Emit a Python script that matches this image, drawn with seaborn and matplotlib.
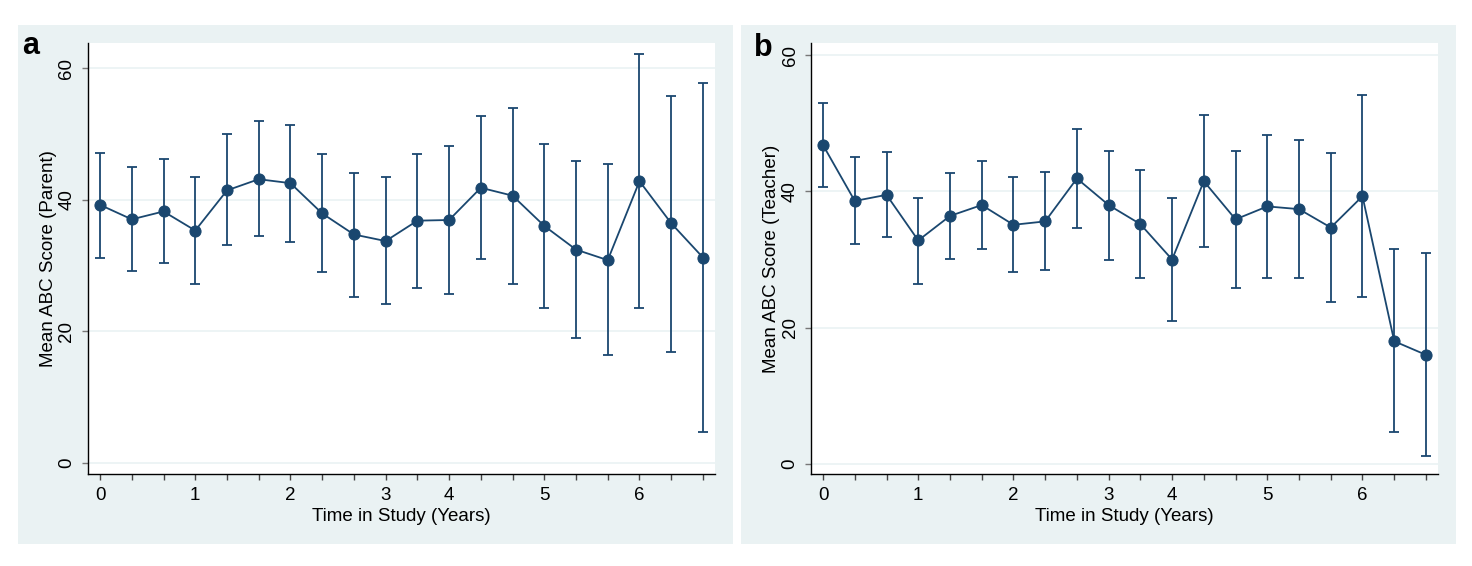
import matplotlib
matplotlib.use("Agg")
import matplotlib.pyplot as plt
import seaborn as sns
import numpy as np
import pandas as pd
from matplotlib.patches import Rectangle

# ── Data ──────────────────────────────────────────────────────────────────
VISIT = np.arange(20)                      # visits every 4 months
TICK_POS = [0, 3, 6, 9, 11, 14, 17]
TICK_LAB = ["0", "1", "2", "3", "4", "5", "6"]

parent_mean = [39.2, 37.0, 38.2, 35.3, 41.4, 43.1, 42.5, 37.9, 34.7, 33.7,
               36.8, 36.9, 41.8, 40.6, 36.0, 32.4, 30.8, 42.8, 36.4, 31.2]
parent_hi = [47.1, 44.9, 46.2, 43.4, 49.9, 51.9, 51.4, 46.9, 44.1, 43.4,
             47.0, 48.2, 52.7, 53.9, 48.5, 45.8, 45.4, 62.1, 55.8, 57.7]
parent_lo = [31.2, 29.1, 30.4, 27.2, 33.1, 34.5, 33.5, 29.0, 25.2, 24.2,
             26.5, 25.6, 31.0, 27.2, 23.5, 19.0, 16.4, 23.5, 16.9, 4.7]

teacher_mean = [46.8, 38.6, 39.5, 32.8, 36.4, 38.0, 35.1, 35.6, 41.9, 38.0,
                35.2, 30.0, 41.5, 35.9, 37.8, 37.4, 34.7, 39.3, 18.0, 16.0]
teacher_hi = [53.0, 45.0, 45.8, 39.0, 42.7, 44.4, 42.1, 42.9, 49.2, 45.9,
              43.2, 39.1, 51.2, 46.0, 48.3, 47.5, 45.7, 54.1, 31.6, 30.9]
teacher_lo = [40.6, 32.3, 33.3, 26.4, 30.1, 31.5, 28.1, 28.5, 34.7, 30.0,
              27.3, 20.9, 31.8, 25.8, 27.3, 27.3, 23.7, 24.5, 4.7, 1.1]

# ── Style ─────────────────────────────────────────────────────────────────
BG    = "#eaf2f3"
NAVY  = "#1a476f"
W, H  = 1472, 566
FS    = 13.5

sns.set_theme(style="white")
plt.rcParams["font.family"] = ["Liberation Sans", "DejaVu Sans"]
plt.rcParams["text.color"] = "black"
plt.rcParams["axes.labelcolor"] = "black"
plt.rcParams["xtick.color"] = "black"
plt.rcParams["ytick.color"] = "black"

fig = plt.figure(figsize=(W / 100, H / 100), dpi=100, facecolor="white")


def px_rect(x0, y0, x1, y1):
    """pixel box (top-left origin) -> figure fraction [l, b, w, h]"""
    return [x0 / W, 1 - y1 / H, (x1 - x0) / W, (y1 - y0) / H]


def panel(bg_box, ax_box, mean, lo, hi, ylab, letter, ylim, letter_xy):
    l, b, w, h = px_rect(*bg_box)
    fig.patches.append(Rectangle((l, b), w, h, transform=fig.transFigure,
                                 facecolor=BG, edgecolor="none", zorder=-10))
    ax = fig.add_axes(px_rect(*ax_box))
    ax.set_zorder(1)
    ax.set_facecolor("white")

    df = pd.DataFrame({"visit": VISIT, "mean": mean})
    mean = np.array(mean)
    err = [mean - np.array(lo), np.array(hi) - mean]
    ax.errorbar(VISIT, mean, yerr=err, fmt="none", ecolor=NAVY,
                elinewidth=1.3, capsize=3.5, capthick=1.3, zorder=2)
    sns.lineplot(data=df, x="visit", y="mean", ax=ax, color=NAVY,
                 linewidth=1.3, marker="o", markersize=8,
                 markeredgecolor=NAVY, markerfacecolor=NAVY, zorder=3)

    ax.set_xlim(-0.38, 19.38)
    ax.set_ylim(*ylim)
    ax.set_yticks([0, 20, 40, 60])
    ax.set_xticks(VISIT)
    ax.set_xticklabels([TICK_LAB[TICK_POS.index(i)] if i in TICK_POS else ""
                        for i in VISIT])
    ax.yaxis.grid(True, color=BG, linewidth=1.2)
    ax.xaxis.grid(False)
    ax.set_axisbelow(True)

    for s in ["top", "right"]:
        ax.spines[s].set_visible(False)
    for s in ["left", "bottom"]:
        ax.spines[s].set_color("black")
        ax.spines[s].set_linewidth(1.0)

    ax.tick_params(axis="y", direction="out", length=4, width=1, color="#777777",
                   labelsize=FS, pad=5, labelrotation=90, left=True)
    ax.tick_params(axis="x", direction="out", length=4, width=1, color="#444444",
                   labelsize=FS, pad=5, bottom=True)
    for t in ax.get_yticklabels():
        t.set_va("center")

    ax.set_xlabel("Time in Study (Years)", fontsize=FS, labelpad=3)
    ax.set_ylabel(ylab, fontsize=FS, labelpad=1)

    fig.text(letter_xy[0] / W, 1 - letter_xy[1] / H, letter, fontsize=22,
             fontweight="bold", ha="left", va="baseline", color="black")
    return ax


panel((18, 25, 733, 544), (88, 43, 715, 474), parent_mean, parent_lo, parent_hi,
      "Mean ABC Score (Parent)", "a", (-1.7, 63.8), (22, 54))
panel((741, 25, 1456, 544), (811, 43, 1438, 474), teacher_mean, teacher_lo, teacher_hi,
      "Mean ABC Score (Teacher)", "b", (-1.5, 61.8), (754, 56))

fig.savefig("out.png", dpi=100, facecolor="white")
